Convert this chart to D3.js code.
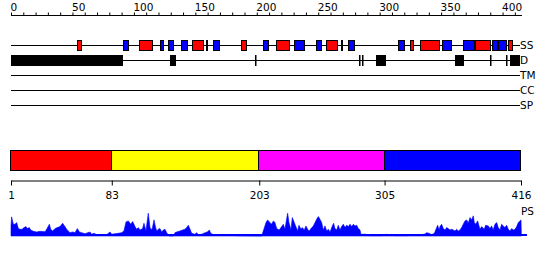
<!DOCTYPE html>
<html><head><meta charset="utf-8">
<script src="https://cdn.jsdelivr.net/npm/d3@7"></script>
<style>body{margin:0;background:#fff}svg{display:block}text{font-family:"DejaVu Sans",sans-serif;font-size:10.5px;fill:#000}</style>
</head><body><svg id="c" width="550" height="260"></svg>
<script>
const seqLength = 416;
const topTicks = d3.range(0, 416, 10);
const topLabels = [0, 50, 100, 150, 200, 250, 300, 350, 400];
const trackNames = ["SS", "D", "TM", "CC", "SP"];
const ssStart = [54,91,104,121,128,138,147,159,164,187,205,216,230,248,256,268.5,274,315,325,333,350.5,368,377.5,391,396,404.5];
const ssEnd   = [58,96,115,124.5,133,144,156.5,161,169.5,192,210,227,239,253,266,270.5,280,320.5,328,349.5,358.5,377.5,390.5,396,403,408.5];
const ssType  = ["H","E","H","E","E","E","H","E","E","H","E","H","E","E","H","E","E","E","H","H","E","E","H","E","E","H"];
const dStart = [0,129,198.5,283,286,297,361,390,403,406];
const dEnd   = [91,134,199.5,284,287,305.5,368.5,391,404,414];
const domStart = [1, 83, 203, 305];
const domEnd   = [83, 203, 305, 416];
const domColor = ["#ff0000", "#ffff00", "#ff00ff", "#0000ff"];
const bottomTicks = [1, 83, 203, 305, 416];
const psPos = [0,0.5,1.9,3.3,4.6,6,7.3,9,10.6,12.2,13.3,14.9,16,18.2,20.9,23.6,27.7,29,31.2,32.3,33.9,35.8,37.7,39.9,42,43.9,45.3,46.6,48,50.2,52.1,54,55.6,57.5,60.2,64.3,65.6,67.5,69.7,72.4,75.1,77.8,80.6,81.9,84.6,87.3,90,91.9,93.6,95.5,97.4,99,100.9,102.3,103.6,105,107.1,108.2,109.8,111.7,113.1,114.7,116.4,117.4,118.5,119.9,121.2,122.6,124,125.3,126.7,128,129.4,132.1,133.4,134.8,137.5,139.7,141.6,142.9,144.3,145.7,147,149.7,151.1,152.4,155.1,157.9,159.8,161.4,162.5,164.6,167.3,170.1,172.8,175.5,178.2,180.9,183.6,204,205.3,207.5,208.8,210.2,212.1,213.5,214.8,216.2,218.1,219.7,221.6,222.9,225.1,226.2,227.8,228.9,230,231.6,233.3,234.3,236,237,238.7,240,241.4,242.5,244.1,246,247.4,248.7,250.1,251.4,252.8,254.1,255.5,256.9,258.2,259.6,261.5,262.5,263.6,265,266.3,267.7,269,270.4,271.8,273.1,274.5,275.9,277.2,278.6,279.9,281.3,282.6,284,284.8,286.7,288.1,289.4,292.1,301.6,303,305.7,308.4,312.4,323.3,324.7,327.4,328.7,331.4,334.1,336.9,338.2,340.1,342.3,344.5,345.8,347.2,348.3,349.1,350.4,351.8,353.2,354.5,355.8,357.2,358.6,359.9,361.3,362.6,364,365.3,366.7,368,369.4,370.8,372.1,373.5,374.8,376.2,377,378.1,379.7,381.6,383,385.1,386.2,388.4,389.7,391.1,392.4,393.8,395.2,396.5,397.9,399.2,400.6,401.9,403.3,404.7,406,407.4,408.8,410.1,411.5,412.8,414.2,415,415.3];
const psVal = [30,57,35,35,40,22,20,20,25,28,22,25,18,14,12,14,13,20,35,20,15,22,25,28,38,28,20,15,10,12,10,22,12,10,7,12,5,8,4,2,4,4,12,5,7,8,10,15,42,45,35,43,28,20,25,18,22,38,15,68,25,18,48,30,15,20,22,12,18,20,10,2,0,0,10,12,15,18,20,25,32,20,8,5,10,4,5,10,12,18,8,4,4,2,4,2,5,2,1,0,15,40,48,42,35,45,40,22,18,25,35,20,68,40,18,55,45,30,15,32,20,25,18,30,20,15,22,30,40,50,58,50,40,18,30,15,20,12,30,38,22,18,32,18,28,35,25,32,28,35,28,35,30,32,22,18,5,5,6,2,1,1,4,5,3,1,1,4,3,4,2,4,6,10,8,4,8,20,32,18,28,35,22,18,25,22,18,20,18,15,20,15,18,25,35,45,48,38,55,48,60,40,35,45,20,28,20,32,30,22,30,18,35,40,25,18,35,30,25,32,20,15,22,18,20,28,40,45,48,0];

const svg = d3.select("#c");
const x = d3.scaleLinear().domain([0, seqLength - 1]).range([11, 521]);
const colorSS = t => t === "H" ? "#ff0000" : "#0000ff";

// top axis
const topAxis = d3.axisTop(x).tickValues(topTicks).tickSize(3).tickSizeOuter(0)
  .tickFormat(d => topLabels.includes(d) ? d : "");
const gTop = svg.append("g").attr("transform", "translate(0,15.5)").call(topAxis);
gTop.select(".domain").attr("stroke", "#000").attr("d", `M${x(0)},0H${x(seqLength - 1) + 1}`);
gTop.selectAll(".tick line").attr("stroke", "#000");
gTop.selectAll(".tick text").attr("text-anchor", "start").attr("x", -1).attr("y", -5).attr("dy", 0)
  .style("font-family", "DejaVu Sans").style("font-size", "10.5px").attr("fill", "#000");

// tracks
const trackY = d3.scalePoint().domain(trackNames).range([45.5, 105.5]);
const gTracks = svg.append("g");
gTracks.selectAll("line.track").data(trackNames).join("line")
  .attr("x1", x(0)).attr("x2", 520).attr("y1", d => trackY(d)).attr("y2", d => trackY(d))
  .attr("stroke", "#000");
gTracks.selectAll("text.lbl").data(trackNames).join("text")
  .attr("x", 520).attr("y", d => trackY(d)).attr("dy", "0.36em").text(d => d);

const ssData = ssStart.map((s, i) => ({s, e: ssEnd[i], t: ssType[i]}));
gTracks.selectAll("rect.ss").data(ssData).join("rect")
  .attr("x", d => Math.round(x(d.s)) + 0.5).attr("width", d => Math.max(1, Math.round(x(d.e) - x(d.s)) - 1))
  .attr("y", trackY("SS") - 5).attr("height", 10)
  .attr("fill", d => colorSS(d.t)).attr("stroke", "#000");
const dData = dStart.map((s, i) => ({s, e: dEnd[i]}));
gTracks.selectAll("rect.d").data(dData).join("rect")
  .attr("x", d => Math.round(x(d.s)) + 0.5).attr("width", d => Math.max(0.5, Math.round(x(d.e) - x(d.s)) - 1))
  .attr("y", trackY("D") - 5).attr("height", 10)
  .attr("fill", "#000").attr("stroke", "#000");

// domain bar
const domData = domStart.map((s, i) => ({s, e: domEnd[i], c: domColor[i]}));
svg.append("g").selectAll("rect").data(domData).join("rect")
  .attr("x", d => Math.round(x(d.s - 1)) - 0.5).attr("width", d => Math.round(x(d.e - 1)) - Math.round(x(d.s - 1)))
  .attr("y", 150.5).attr("height", 20).attr("fill", d => d.c).attr("stroke", "#000");

// bottom axis
const botAxis = d3.axisBottom(x).tickValues(bottomTicks.map(v => v - 1)).tickSize(5).tickSizeOuter(0)
  .tickFormat((d, i) => bottomTicks[i]);
const gBot = svg.append("g").attr("transform", "translate(0,180.5)").call(botAxis);
gBot.select(".domain").attr("stroke", "#000");
gBot.selectAll(".tick line").attr("stroke", "#000");
gBot.selectAll(".tick text").attr("y", 18.5).attr("dy", 0)
  .style("font-family", "DejaVu Sans").style("font-size", "10.5px").attr("fill", "#000");

// PS profile
const yPS = d3.scaleLinear().domain([0, 70]).range([236, 212.5]);
const psData = psPos.map((p, i) => ({p, v: psVal[i]}));
svg.append("path").datum(psData)
  .attr("d", d3.area().x(d => x(d.p)).y0(yPS(0)).y1(d => yPS(d.v)))
  .attr("fill", "#0000ff").attr("stroke", "#0000ff").attr("stroke-width", 0.6);
svg.append("line").attr("x1", x(0)).attr("x2", 527).attr("y1", 235).attr("y2", 235)
  .attr("stroke", "#0000ff").attr("stroke-width", 2);
svg.append("text").attr("x", 521).attr("y", 211).attr("dy", "0.36em").text("PS");
</script></body></html>
